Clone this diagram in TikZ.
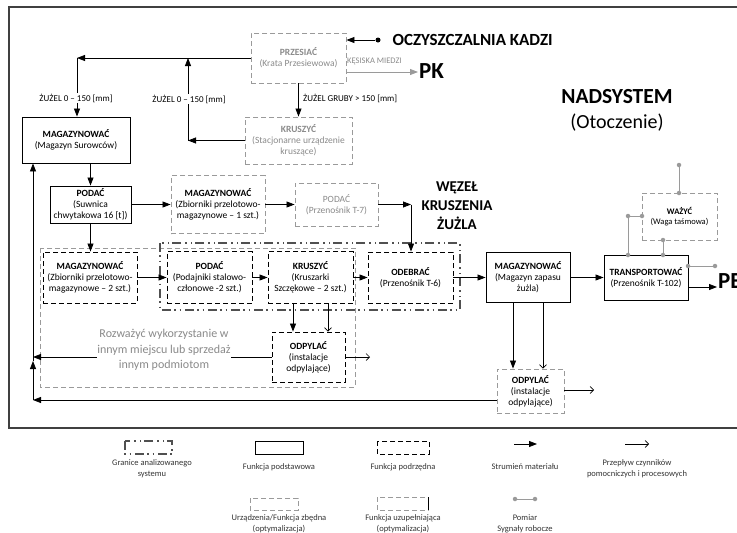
\documentclass[tikz,border=0pt]{standalone}
\usepackage{fontspec}
\setmainfont{Carlito}
\usetikzlibrary{arrows.meta}
\definecolor{zgray}{HTML}{9A9A9A}
\definecolor{tgray}{HTML}{8A8A8A}
\definecolor{framec}{HTML}{404040}
\definecolor{boundc}{HTML}{505050}
\definecolor{legc}{HTML}{333333}
\tikzset{
  every node/.style={font=\fontsize{9.5}{11}\selectfont},
  wh/.style 2 args={minimum width=#1pt, minimum height=#2pt},
  fbox/.style={draw, line width=0.9pt, align=center, inner sep=1pt},
  solidbox/.style={fbox},
  subbox/.style={fbox, dash pattern=on 5pt off 3pt},
  optbox/.style={fbox, draw=zgray, dash pattern=on 5pt off 3pt},
  redbox/.style={fbox, draw=zgray, dash pattern=on 5pt off 3pt, text=tgray},
  mat/.style={line width=0.8pt, -{Triangle[length=8pt,width=6pt]}},
  aux/.style={line width=0.6pt, -{Straight Barb[length=3.5pt,width=7pt]}},
  meas/.style={draw=zgray, line width=1pt},
  mdot/.style={circle, fill=zgray, inner sep=0pt, minimum size=4.5pt},
  lab/.style={font=\fontsize{9}{10}\selectfont, inner sep=1pt},
  leg/.style={font=\fontsize{8.5}{11}\selectfont, text=legc, align=center, inner sep=0pt},
  bound/.style={draw=boundc, line width=1.8pt, dash pattern=on 9pt off 3pt on 1.5pt off 4pt on 1.5pt off 4pt},
  zone/.style={draw=zgray, line width=0.9pt, dash pattern=on 5pt off 3pt},
}
\begin{document}
\begin{tikzpicture}[x=1pt,y=-1pt]
\useasboundingbox (0,0) rectangle (737,533);
\draw[framec, line width=1.6pt] (9,7) rectangle (760,428);

% system boundary and grey zone
\draw[zone] (40,248) rectangle (355,387);
\draw[bound] (160,243) rectangle (460,310);

% nodes
\node[redbox, wh={95}{50}] (przes) at (298.5,58) {\textbf{PRZESIAĆ}\\(Krata Przesiewowa)};
\node[redbox, wh={107}{47}] (kr1) at (298.5,140.5) {\textbf{KRUSZYĆ}\\(Stacjonarne urządzenie\\kruszące)};
\node[solidbox, wh={108}{46}] (ms) at (76,140) {\textbf{MAGAZYNOWAĆ}\\(Magazyn Surowców)};
\node[solidbox, wh={81}{37}] (pod1) at (90.5,204.5) {\textbf{PODAĆ}\\(Suwnica\\chwytakowa 16 [t])};
\node[optbox, wh={94}{58}] (mag1) at (218,204.5) {\textbf{MAGAZYNOWAĆ}\\(Zbiorniki przelotowo-\\magazynowe – 1 szt.)};
\node[redbox, wh={83}{43}] (pod7) at (336.5,204.5) {PODAĆ\\(Przenośnik T-7)};
\node[subbox, wh={94}{51}] (mag2) at (90,277.5) {\textbf{MAGAZYNOWAĆ}\\(Zbiorniki przelotowo-\\magazynowe – 2 szt.)};
\node[subbox, wh={85}{52}] (pod2) at (209.5,277.5) {\textbf{PODAĆ}\\(Podajniki stalowo-\\członowe -2 szt.)};
\node[subbox, wh={85}{52}] (kr2) at (310.5,277.5) {\textbf{KRUSZYĆ}\\(Kruszarki\\Szczękowe – 2 szt.)};
\node[subbox, wh={85}{51}] (odeb) at (410.5,277.5) {\textbf{ODEBRAĆ}\\(Przenośnik T-6)};
\node[solidbox, wh={84}{50}] (mzap) at (528,277.5) {\textbf{MAGAZYNOWAĆ}\\(Magazyn zapasu\\żużla)};
\node[solidbox, wh={84}{45}] (trans) at (646,277.5) {\textbf{TRANSPORTOWAĆ}\\(Przenośnik T-102)};
\node[optbox, wh={75}{47}, font=\fontsize{8.5}{10}\selectfont] (waz) at (679.5,216.5) {\textbf{WAŻYĆ}\\(Waga taśmowa)};
\node[subbox, wh={73}{50}] (odp1) at (308.5,357) {\textbf{ODPYLAĆ}\\(instalacje\\odpylające)};
\node[optbox, wh={67}{44}] (odp2) at (530.5,391) {\textbf{ODPYLAĆ}\\(instalacje\\odpylające)};

% top inputs / outputs
\node[circle, fill=black, inner sep=0pt, minimum size=5pt] (ocz) at (378,40) {};
\node[anchor=west, font=\fontsize{17}{19}\selectfont\bfseries] (oczt) at (389,40) {OCZYSZCZALNIA KADZI};
\draw[mat] (ocz) -- (ocz -| przes.east);
\node[anchor=west, font=\fontsize{23}{25}\selectfont\bfseries, inner sep=1pt] (pk) at (418,71) {PK};
\draw[mat, color=zgray] (przes.east |- 0,72) -- (pk.west |- 0,72);
\node[font=\fontsize{8.5}{10}\selectfont, inner sep=1pt, text=tgray, anchor=west] (kes) at (346,61) {KĘSISKA MIEDZI};

\coordinate (c1) at (77,58);
\draw[mat] (przes.west) -- (c1);
\draw[mat] (c1) -- (c1 |- ms.north);
\coordinate (c2) at (188,140.5);
\draw[mat] (kr1.west) -- (c2);
\draw[mat] (c2) -- (c2 |- c1);
\draw[mat] (przes.south) -- (kr1.north);
\node[lab, fill=white] (l1) at (76,98) {ŻUŻEL 0 – 150 [mm]};
\node[lab, fill=white] (l2) at (189,99) {ŻUŻEL 0 – 150 [mm]};
\node[lab, anchor=west] (l3) at (302,98) {ŻUŻEL GRUBY > 150 [mm]};

% main flow
\draw[mat] (pod1.north |- ms.south) -- (pod1.north);
\draw[mat] (pod1.east) -- (mag1.west |- pod1.east);
\draw[mat] (mag1.east) -- (pod7.west |- mag1.east);
\coordinate (c3) at (411,204.5);
\draw[mat] (pod7.east) -- (c3);
\draw[mat] (c3) -- (c3 |- odeb.north);
\draw[mat] (pod1.south) -- (pod1.south |- mag2.north);
\draw[mat] (mag2.east) -- (pod2.west);
\draw[mat] (pod2.east) -- (kr2.west);
\draw[mat] (kr2.east) -- (odeb.west);
\draw[mat] (odeb.east) -- (mzap.west);
\draw[mat] (mzap.east) -- (trans.west);
\node[anchor=west, font=\fontsize{23}{25}\selectfont\bfseries, inner sep=1pt] (pe) at (717,281) {PE};
\draw[mat] (trans.east |- 0,287) -- (pe.west |- 0,287);

% measurement signals
\node[mdot] (m1) at (679,165) {};
\node[mdot] (m2) at (679,193) {};
\draw[meas] (m1) -- (m2);
\node[mdot] (m3) at (628,255) {};
\node[mdot] (m4) at (628,216) {};
\node[mdot] (m5) at (642,216) {};
\draw[meas] (m3) -- (m4) -- (m5);
\node[mdot] (m6) at (663,240) {};
\node[mdot] (m7) at (663,255) {};
\draw[meas] (m6) -- (m7);
\node[mdot] (m8) at (688,266) {};
\node[mdot] (m9) at (715,266) {};
\draw[meas] (m8) -- (m9);

% dedusting
\draw[mat] ([xshift=-17.5pt]kr2.south) -- ([xshift=-17.5pt]kr2.south |- odp1.north);
\draw[aux] ([xshift=17.5pt]kr2.south) -- ([xshift=17.5pt]kr2.south |- odp1.north);
\coordinate (l1c) at (33,357);
\coordinate (r1c) at (370,357);
\draw[mat] (odp1.west) -- (l1c);
\draw[aux] (odp1.east) -- (r1c);
\draw[mat] ([xshift=-15pt]mzap.south) -- ([xshift=-15pt]mzap.south |- odp2.north);
\draw[aux] ([xshift=15pt]mzap.south) -- ([xshift=15pt]mzap.south |- odp2.north);
\coordinate (r2c) at (594,390);
\draw[aux] (odp2.east |- r2c) -- (r2c);
\coordinate (l2c) at (33,400);
\coordinate (l3c) at (33,361);
\draw[mat] (odp2.west |- l2c) -- (l2c);
\draw[mat] (l2c) -- (l3c);
\draw[mat] (l3c) -- (l3c |- ms.south);

\node[font=\fontsize{12}{15.5}\selectfont, text=tgray, align=center, fill=white, inner sep=0pt] (rz) at (164,350) {Rozważyć wykorzystanie w\\innym miejscu lub sprzedaż\\innym podmiotom};

% big titles
\node[font=\fontsize{15}{19}\selectfont\bfseries, align=center] (wz) at (457,206) {WĘZEŁ\\KRUSZENIA\\ŻUŻLA};
\node[font=\fontsize{21.5}{24}\selectfont\bfseries] (ns) at (617,97) {NADSYSTEM};
\node[font=\fontsize{20}{22}\selectfont] (ot) at (617,123) {(Otoczenie)};

% legend
\draw[bound, line width=1.4pt] (125,441) rectangle (172,454);
\node[leg] (g1) at (152,469) {Granice analizowanego\\systemu};
\draw[line width=0.8pt] (255,441) rectangle (303,454);
\node[leg] (g2) at (279,467) {Funkcja podstawowa};
\draw[line width=0.8pt, dash pattern=on 5pt off 3pt] (377,441) rectangle (429,454);
\node[leg] (g3) at (403,467) {Funkcja podrzędna};
\coordinate (a1) at (514,444); \coordinate (a2) at (537,444);
\draw[mat] (a1) -- (a2);
\node[leg] (g4) at (525,467) {Strumień materiału};
\coordinate (a3) at (625,444); \coordinate (a4) at (649,444);
\draw[aux] (a3) -- (a4);
\node[leg] (g5) at (637,469) {Przepływ czynników\\pomocniczych i procesowych};
\draw[zone, line width=0.8pt] (250,498) rectangle (298,510);
\node[leg] (g6) at (279,524) {Urządzenia/Funkcja zbędna\\(optymalizacja)};
\draw[zone, line width=0.8pt] (377,497) rectangle (428,510);
\draw[line width=0.8pt] (428,497) -- (428,510);
\node[leg] (g7) at (403,524) {Funkcja uzupełniająca\\(optymalizacja)};
\node[mdot] (p1) at (515,499) {};
\node[mdot] (p2) at (535,499) {};
\draw[meas] (p1) -- (p2);
\node[leg] (g8) at (525,524) {Pomiar\\Sygnały robocze};
\end{tikzpicture}
\end{document}
